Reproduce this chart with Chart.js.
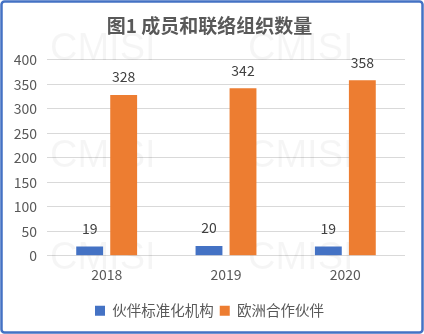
<!DOCTYPE html>
<html><head><meta charset="utf-8">
<script src="https://cdn.jsdelivr.net/npm/chart.js@4/dist/chart.umd.min.js"></script>
<style>html,body{margin:0;padding:0;background:#fff}#wrap{width:424px;height:334px;position:relative}</style>
</head><body><div id="wrap"><canvas id="c" width="424" height="334"></canvas></div>
<script>
const categories = ['2018', '2019', '2020'];
const seriesNames = ['伙伴标准化机构', '欧洲合作伙伴'];
const partnerOrgs = [19, 20, 19];
const euPartners = [328, 342, 358];
const yTicks = [0, 50, 100, 150, 200, 250, 300, 350, 400];
const titleText = '图1 成员和联络组织数量';
const watermark = 'CMISI';

const FONT = '"Noto Sans CJK SC", "Liberation Sans", sans-serif';

const bgPlugin = {
  id: 'bg',
  beforeDraw(chart) {
    const ctx = chart.ctx;
    ctx.save();
    ctx.fillStyle = '#fff';
    ctx.fillRect(0, 0, chart.width, chart.height);
    ctx.restore();
  },
  beforeDatasetsDraw(chart) {
    const ctx = chart.ctx;
    ctx.save();
    ctx.fillStyle = 'rgba(0,0,0,0.04)';
    ctx.font = '38px "Liberation Sans", sans-serif';
    ctx.textBaseline = 'middle';
    ctx.textAlign = 'left';
    [[50, 50], [248, 50], [50, 157], [248, 157], [50, 259], [248, 259]].forEach(([x, y]) => ctx.fillText(watermark, x, y));
    ctx.restore();
  },
  afterDraw(chart) {
    const ctx = chart.ctx;
    ctx.save();
    ctx.fillStyle = '#404040';
    ctx.font = '14px ' + FONT;
    ctx.textAlign = 'center';
    ctx.textBaseline = 'middle';
    chart.data.datasets.forEach((ds, i) => {
      chart.getDatasetMeta(i).data.forEach((bar, j) => {
        ctx.fillText(String(ds.data[j]), bar.x, bar.y - 18);
      });
    });
    ctx.strokeStyle = '#4472C4';
    ctx.lineWidth = 2.5;
    ctx.beginPath();
    ctx.roundRect(1.5, 1.5, chart.width - 3, chart.height - 3, 3);
    ctx.stroke();
    ctx.restore();
  }
};

new Chart(document.getElementById('c'), {
  type: 'bar',
  data: {
    labels: categories,
    datasets: [
      { label: seriesNames[0], data: partnerOrgs, backgroundColor: '#4472C4' },
      { label: seriesNames[1], data: euPartners, backgroundColor: '#ED7D31' }
    ]
  },
  options: {
    responsive: false,
    animation: false,
    devicePixelRatio: 1,
    datasets: { bar: { categoryPercentage: 0.57, barPercentage: 0.79 } },
    layout: { padding: { left: 14, right: 19, top: 0, bottom: 6 } },
    plugins: {
      title: {
        display: true, text: titleText, color: '#595959',
        font: { family: FONT, size: 19, weight: 'bold' },
        padding: { top: 14, bottom: 23 }
      },
      legend: {
        position: 'bottom',
        labels: {
          color: '#595959', font: { family: FONT, size: 14.5 },
          boxWidth: 10, boxHeight: 10, padding: 6
        }
      },
      tooltip: { enabled: false }
    },
    scales: {
      x: {
        grid: { display: false, drawTicks: false },
        border: { display: false },
        ticks: { color: '#595959', font: { family: FONT, size: 14 }, padding: 11 },
        afterFit(scale) { scale.height += 3; }
      },
      y: {
        min: 0, max: 400,
        afterBuildTicks(scale) { scale.ticks = yTicks.map(v => ({ value: v })); },
        afterFit(scale) { scale.width = 33; },
        grid: { color: '#d9d9d9', drawTicks: false },
        border: { display: false },
        ticks: { color: '#595959', font: { family: FONT, size: 14 }, padding: 10 }
      }
    }
  },
  plugins: [bgPlugin]
});
</script></body></html>
